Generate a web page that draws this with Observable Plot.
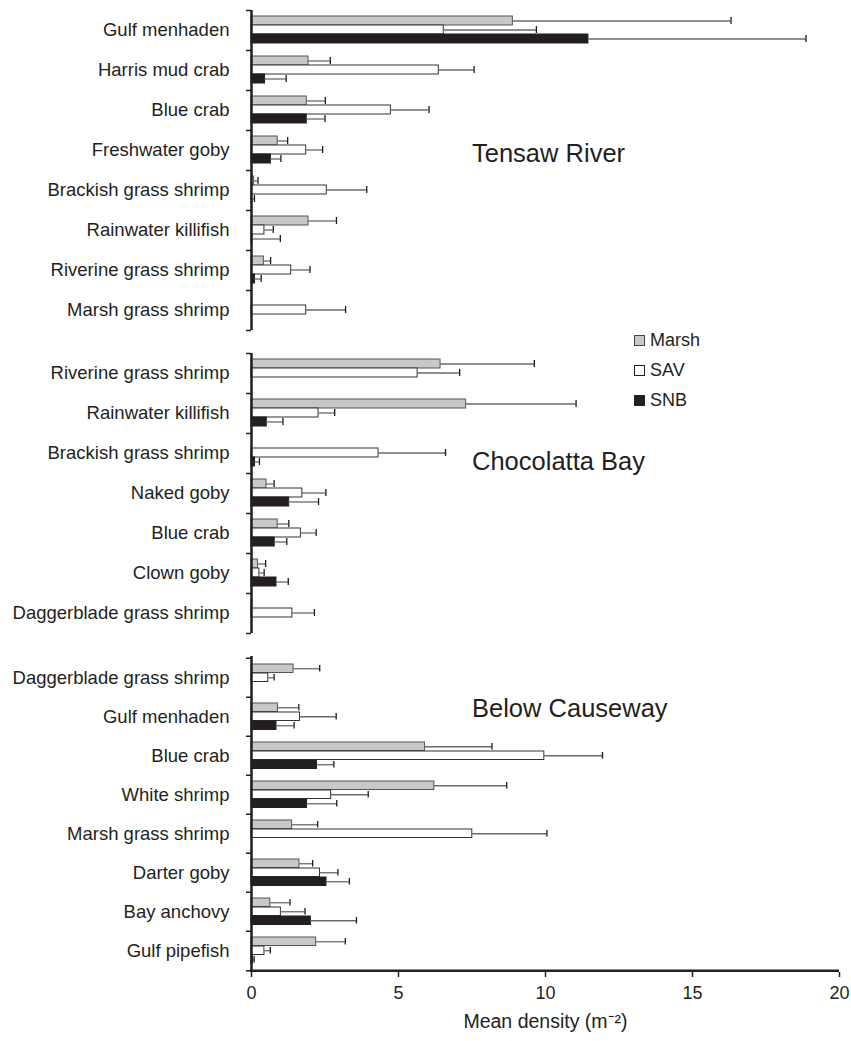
<!DOCTYPE html>
<html><head><meta charset="utf-8">
<script src="https://cdn.jsdelivr.net/npm/d3@7"></script>
<script src="https://cdn.jsdelivr.net/npm/@observablehq/plot@0.6"></script>
<style>
body{margin:0;background:#fff;}
#chart{position:relative;width:851px;height:1041px;font-family:"Liberation Sans",Arial,Helvetica,sans-serif;color:#231f20;}
.legend{position:absolute;left:634px;top:325px;font-size:18px;line-height:1;}
.legend .row{display:flex;align-items:center;height:30px;}
.legend .sw{width:11px;height:11px;box-sizing:border-box;margin-right:5px;border:1px solid #333;}
</style></head><body><div id="chart"></div>
<script>
// ---- data ----
const seriesNames = ["Marsh", "SAV", "SNB"];

const tensawSpecies = ["Gulf menhaden","Harris mud crab","Blue crab","Freshwater goby","Brackish grass shrimp","Rainwater killifish","Riverine grass shrimp","Marsh grass shrimp"];
const tensawMarsh   = [8.89, 1.94, 1.88, 0.89, 0.09, 1.94, 0.42, 0];
const tensawMarshSE = [7.42, 0.74, 0.63, 0.34, 0.13, 0.95, 0.23, 0];
const tensawSAV     = [6.54, 6.37, 4.74, 1.86, 2.56, 0.44, 1.35, 1.86];
const tensawSAVSE   = [3.15, 1.20, 1.30, 0.56, 1.36, 0.30, 0.64, 1.34];
const tensawSNB     = [11.46, 0.46, 1.88, 0.66, 0.02, 0.03, 0.12, 0];
const tensawSNBSE   = [7.40, 0.72, 0.62, 0.34, 0.08, 0.95, 0.21, 0];

const chocSpecies = ["Riverine grass shrimp","Rainwater killifish","Brackish grass shrimp","Naked goby","Blue crab","Clown goby","Daggerblade grass shrimp"];
const chocMarsh   = [6.43, 7.30, 0, 0.51, 0.89, 0.22, 0.03];
const chocMarshSE = [3.19, 3.74, 0, 0.26, 0.38, 0.26, 0];
const chocSAV     = [5.65, 2.28, 4.32, 1.73, 1.68, 0.27, 1.39];
const chocSAVSE   = [1.43, 0.55, 2.28, 0.80, 0.52, 0.16, 0.75];
const chocSNB     = [0, 0.52, 0.12, 1.28, 0.79, 0.85, 0];
const chocSNBSE   = [0, 0.55, 0.15, 1.00, 0.41, 0.40, 0];

const belowSpecies = ["Daggerblade grass shrimp","Gulf menhaden","Blue crab","White shrimp","Marsh grass shrimp","Darter goby","Bay anchovy","Gulf pipefish"];
const belowMarsh   = [1.43, 0.90, 5.90, 6.22, 1.38, 1.63, 0.64, 2.20];
const belowMarshSE = [0.89, 0.71, 2.28, 2.46, 0.87, 0.45, 0.67, 0.99];
const belowSAV     = [0.57, 1.65, 9.96, 2.71, 7.51, 2.33, 1.00, 0.44];
const belowSAVSE   = [0.20, 1.23, 1.98, 1.26, 2.54, 0.61, 0.82, 0.20];
const belowSNB     = [0, 0.85, 2.23, 1.89, 0, 2.55, 2.02, 0.05];
const belowSNBSE   = [0, 0.60, 0.57, 1.01, 0, 0.78, 1.55, 0.04];

const xTicks = [0, 5, 10, 15, 20];
const xTitle = "Mean density (m\u207B\u00B2)";

// ---- styles ----
const fills   = ["#c8c8c8", "#ffffff", "#231f20"];
const strokes = ["#555555", "#333333", "#231f20"];
const ink = "#231f20";
const barH = 9;
const barTop = [6, 15, 24];

function panel({species, means, ses, label, labelAt, labelDy, marginTop, step, marginBottom, bottom}) {
  const rows = species.flatMap((s, i) => seriesNames.map((k, j) => ({species: s, j, mean: means[j][i], se: ses[j][i]})));
  const marks = [];
  seriesNames.forEach((k, j) => {
    const sub = rows.filter(d => d.j === j);
    const t = barTop[j];
    marks.push(Plot.barX(sub.filter(d => d.mean > 0), {
      x: "mean", y: "species", fill: fills[j], stroke: strokes[j], strokeWidth: 1,
      insetTop: t, insetBottom: step - t - barH
    }));
    const errs = sub.filter(d => d.se > 0);
    marks.push(Plot.ruleY(errs, {
      x1: "mean", x2: d => d.mean + d.se, y: "species", dy: t + barH / 2 - step / 2,
      stroke: "#6a6a6a", strokeWidth: 1.3
    }));
    marks.push(Plot.tickX(errs, {
      x: d => d.mean + d.se, y: "species", insetTop: t + 1, insetBottom: step - t - barH + 1,
      stroke: "#1a1a1a", strokeWidth: 1.3
    }));
  });
  marks.push(Plot.ruleX([0], {stroke: ink, strokeWidth: 2.5}));
  marks.push(Plot.ruleY(species, {x1: -0.17, x2: 0, dy: -step / 2, stroke: ink, strokeWidth: 1.5}));
  marks.push(Plot.ruleY([species[species.length - 1]], {x1: -0.17, x2: 0, dy: step / 2, stroke: ink, strokeWidth: 1.5}));
  marks.push(Plot.text([label], {x: 7.5, y: () => labelAt, dy: labelDy, textAnchor: "start", fontSize: 25.5, fill: ink}));
  marks.push(Plot.axisY({tickSize: 0, tickPadding: 22, label: null, fontSize: 18.5}));
  if (bottom) {
    marks.push(Plot.ruleY([species[species.length - 1]], {x1: -0.04, x2: 20, dy: step / 2, stroke: ink, strokeWidth: 2.5}));
    marks.push(Plot.axisX({ticks: xTicks, tickSize: 5, tickPadding: 9, label: null, fontSize: 18, strokeWidth: 1.5}));
    marks.push(Plot.text([xTitle], {frameAnchor: "bottom", dy: 55, fontSize: 19.5, fill: ink}));
  }
  return Plot.plot({
    width: 851,
    height: marginTop + step * species.length + marginBottom,
    marginLeft: 251, marginRight: 12, marginTop, marginBottom,
    style: {fontFamily: '"Liberation Sans", Arial, Helvetica, sans-serif', fontSize: "18.5px", color: ink, background: "white", overflow: "visible"},
    x: {domain: [0, 20], axis: bottom ? undefined : null},
    y: {domain: species, padding: 0, axis: null},
    marks
  });
}

const chart = document.getElementById("chart");
chart.append(panel({
  species: tensawSpecies,
  means: [tensawMarsh, tensawSAV, tensawSNB], ses: [tensawMarshSE, tensawSAVSE, tensawSNBSE],
  label: "Tensaw River", labelAt: "Freshwater goby", labelDy: 3.5,
  marginTop: 10, step: 40, marginBottom: 12, bottom: false
}));
chart.append(panel({
  species: chocSpecies,
  means: [chocMarsh, chocSAV, chocSNB], ses: [chocMarshSE, chocSAVSE, chocSNBSE],
  label: "Chocolatta Bay", labelAt: "Brackish grass shrimp", labelDy: 8,
  marginTop: 11, step: 40, marginBottom: 12, bottom: false
}));
chart.append(panel({
  species: belowSpecies,
  means: [belowMarsh, belowSAV, belowSNB], ses: [belowMarshSE, belowSAVSE, belowSNBSE],
  label: "Below Causeway", labelAt: "Gulf menhaden", labelDy: -8.5,
  marginTop: 11, step: 39.5, marginBottom: 69, bottom: true
}));

// legend
const legend = document.createElement("div");
legend.className = "legend";
seriesNames.forEach((name, j) => {
  const row = document.createElement("div");
  row.className = "row";
  const sw = document.createElement("span");
  sw.className = "sw";
  sw.style.background = fills[j];
  sw.style.borderColor = j === 0 ? "#444" : "#231f20";
  const tx = document.createElement("span");
  tx.textContent = name;
  row.append(sw, tx);
  legend.append(row);
});
chart.append(legend);
</script>
</body></html>
